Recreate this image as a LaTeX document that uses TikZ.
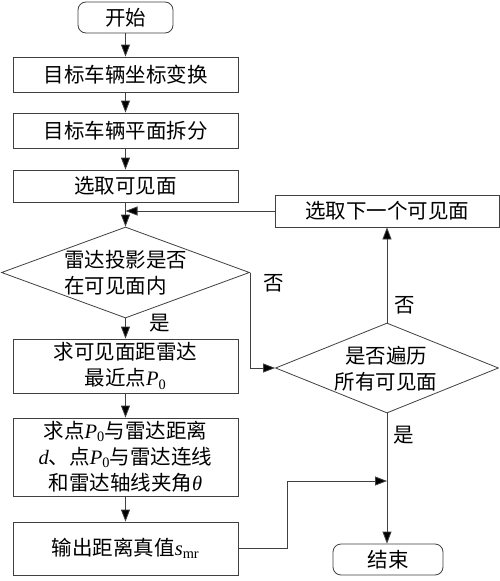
\documentclass[tikz,border=0pt]{standalone}
\usepackage{fontspec}
\setmainfont{Noto Sans CJK SC}
\newfontfamily\lat{Liberation Serif}
\usetikzlibrary{shapes.geometric,arrows.meta}
\newcommand\Pz{{\lat\textit{P}\textsubscript{0}}}
\begin{document}
\begin{tikzpicture}[x=1pt,y=-1pt,line width=0.8pt,
  txt/.style={font=\fontsize{20.5}{26}\selectfont},
  box/.style={txt,draw=black!75,rectangle,minimum width=225pt,inner sep=0pt,align=center},
  term/.style={box,rounded corners=8pt},
  dia/.style={draw=black!75,diamond,inner sep=0pt},
  arr/.style={draw=black!75,-{Triangle[length=12pt,width=9pt,fill=black]}},
  lbl/.style={txt,inner sep=0pt}]
\useasboundingbox (0,0) rectangle (500,581);
\fill[white] (0,0) rectangle (500,581);
% left column
\node[term,minimum width=95pt,minimum height=31pt] (start) at (125.5,17.5) {开始};
\node[box,minimum height=35pt] (b1) at (125.5,74.5) {目标车辆坐标变换};
\node[box,minimum height=35pt] (b2) at (125.5,130.5) {目标车辆平面拆分};
\node[box,minimum height=32pt] (b3) at (125.5,186) {选取可见面};
\node[dia,minimum width=248pt,minimum height=91pt] (d1) at (125.5,272.5) {};
\node[txt,align=left,anchor=west,inner sep=0pt] (d1t) at (64,273) {雷达投影是否\\在可见面内};
\node[box,minimum height=54pt] (b4) at (125.5,366) {求可见面距雷达\\最近点\Pz};
\node[box,minimum height=78pt] (b5) at (125.5,457) {求点\Pz 与雷达距离\\{\lat\textit{d}}、点\Pz 与雷达连线\\和雷达轴线夹角{\lat\textit{θ}}};
\node[box,minimum height=53pt] (b6) at (125.5,548.5) {输出距离真值{\lat\textit{s}\textsubscript{mr}}};
% right column
\node[box,minimum width=224pt,minimum height=32pt] (next) at (387,211) {选取下一个可见面};
\node[dia,minimum width=223pt,minimum height=90pt] (d2) at (387,368) {};
\node[txt,align=center,inner sep=0pt] (d2t) at (386,369) {是否遍历\\所有可见面};
\node[term,minimum width=110pt,minimum height=31pt] (end) at (388,559.5) {结束};
% labels
\node[lbl] (ys1) at (160,323) {是};
\node[lbl] (no1) at (274,283) {否};
\node[lbl] (no2) at (405,305) {否};
\node[lbl] (ys2) at (404,435) {是};
% connectors
\draw[arr] (start) -- (b1);
\draw[arr] (b1) -- (b2);
\draw[arr] (b2) -- (b3);
\draw[arr] (b3) -- (d1);
\coordinate (j) at (d1.north |- next.west);
\draw[arr] (next.west) -- (j);
\draw[arr] (d1.east) -- (d1.east |- d2.west) -- (d2.west);
\draw[arr] (d1.south) -- (b4);
\draw[arr] (b4) -- (b5);
\draw[arr] (b5) -- (b6);
\draw[arr] (d2.north) -- (d2.north |- next.south);
\draw[arr] (d2.south) -- (d2.south |- end.north);
\coordinate (k) at (287,481);
\coordinate (m) at (d2.south |- k);
\draw[arr] (b6.east) -| (k) -- (m);
\end{tikzpicture}
\end{document}
